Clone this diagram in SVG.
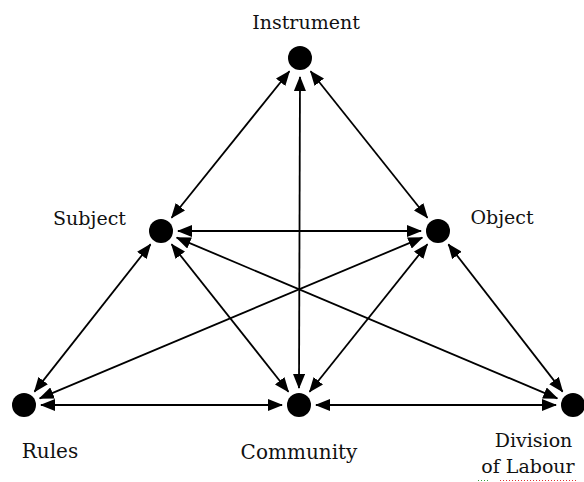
<svg xmlns="http://www.w3.org/2000/svg" width="584" height="482" viewBox="0 0 584 482">
  <style>
    .lbl { font-family: "DejaVu Serif", "Liberation Serif", serif; font-size: 19px; fill: #111; text-anchor: middle; }
    .big { font-size: 20px; }
    .dot { fill: #000; }
    .conn line { stroke: #000; stroke-width: 1.8; marker-start: url(#ah); marker-end: url(#ah); }
  </style>
  <defs>
    <marker id="ah" markerUnits="userSpaceOnUse" viewBox="0 0 15 12" refX="14" refY="6" markerWidth="15" markerHeight="12" orient="auto-start-reverse">
      <path d="M0,0 L15,6 L0,12 z" fill="#000"/>
    </marker>
  </defs>
  <rect width="584" height="482" fill="#fff"/>
  <g id="connectors" class="conn">
    <line x1="289.4" y1="71.3" x2="171.6" y2="217.7"/>
    <line x1="310.6" y1="71.3" x2="427.4" y2="217.7"/>
    <line x1="300" y1="77" x2="299" y2="388"/>
    <line x1="178" y1="231" x2="421" y2="231"/>
    <line x1="150.5" y1="244.4" x2="34.5" y2="391.6"/>
    <line x1="171.6" y1="244.3" x2="288.4" y2="391.7"/>
    <line x1="176.7" y1="237.6" x2="557.3" y2="398.4"/>
    <line x1="422.3" y1="237.6" x2="39.7" y2="398.4"/>
    <line x1="427.4" y1="244.3" x2="309.6" y2="391.7"/>
    <line x1="448.4" y1="244.4" x2="562.6" y2="391.6"/>
    <line x1="41" y1="405" x2="282" y2="405"/>
    <line x1="316" y1="405" x2="556" y2="405"/>
  </g>
  <g id="instrument">
    <circle class="dot" cx="300" cy="58" r="12"/>
    <text class="lbl" x="306" y="29">Instrument</text>
  </g>
  <g id="subject">
    <circle class="dot" cx="161" cy="231" r="12"/>
    <text class="lbl" x="89.5" y="225">Subject</text>
  </g>
  <g id="object">
    <circle class="dot" cx="438" cy="231" r="12"/>
    <text class="lbl" x="502" y="224">Object</text>
  </g>
  <g id="rules">
    <circle class="dot" cx="24" cy="405" r="12"/>
    <text class="lbl big" x="50" y="458">Rules</text>
  </g>
  <g id="community">
    <circle class="dot" cx="299" cy="405" r="12"/>
    <text class="lbl big" x="299" y="459">Community</text>
  </g>
  <g id="division">
    <circle class="dot" cx="573" cy="405" r="12"/>
    <text class="lbl" x="533.5" y="447">Division</text>
    <text class="lbl" x="528" y="473">of Labour</text>
    <line x1="478" y1="480.5" x2="490" y2="480.5" stroke="#3a9a3a" stroke-width="1" stroke-dasharray="1,2"/>
    <line x1="500" y1="480.5" x2="578" y2="480.5" stroke="#e03030" stroke-width="1" stroke-dasharray="1,2"/>
  </g>
</svg>
